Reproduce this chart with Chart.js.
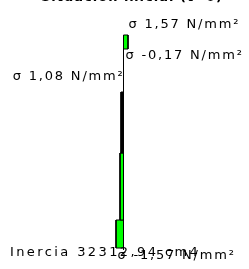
<!DOCTYPE html>
<html>
<head>
<meta charset="utf-8">
<script src="https://cdn.jsdelivr.net/npm/chart.js@4"></script>
<style>
  html, body { margin: 0; padding: 0; background: #fff; }
  #wrap { width: 249px; height: 269px; }
</style>
</head>
<body>
<div id="wrap"><canvas id="mychart"></canvas></div>
<script>
//. diagrama de tensiones de la sección
var titulo = 'Situación inicial (t=0)';
var canto = 213;                          //. canto total de la sección
var prof_ini = [ 0, 57, 118, 185 ];       //. profundidad inicial de cada tramo
var prof_fin = [ 14, 118, 185, 213 ];     //. profundidad final de cada tramo
var anchos = [ 4.5, -2.5, -3.5, -7.5 ];   //. valor dibujado de cada tramo
var tipos = [ 'verde', 'negro', 'verde', 'verde' ];
var tensiones = [ 'σ 1,57 N/mm²', 'σ -0,17 N/mm²', 'σ 1,08 N/mm²', 'σ -1,57 N/mm²' ];
var inercia = 'Inercia 32312,94 cm4';

var colores = { verde: '#00ff00', negro: '#000000' };

var datasets = [];
//. eje vertical
datasets.push({
  data: [ { x: 0, y: 0 }, { x: 0, y: canto + 2 } ],
  borderColor: '#000',
  borderWidth: 1,
  pointRadius: 0,
  showLine: true,
  fill: false
});
for( var i = 0; i < anchos.length; i ++ ){
  datasets.push({
    data: [
      { x: 0, y: prof_ini[i] },
      { x: anchos[i], y: prof_ini[i] },
      { x: anchos[i], y: prof_fin[i] },
      { x: 0, y: prof_fin[i] },
      { x: 0, y: prof_ini[i] }
    ],
    borderColor: '#000',
    backgroundColor: colores[tipos[i]],
    borderWidth: 1,
    pointRadius: 0,
    showLine: true,
    fill: 'shape'
  });
}

var textos = {
  id: 'textos',
  afterDraw: function( chart ){
    var ctx = chart.ctx;
    var sx = chart.scales.x, sy = chart.scales.y;
    var x0 = sx.getPixelForValue( 0 );
    var yTop = sy.getPixelForValue( 0 );
    var yBot = sy.getPixelForValue( canto );
    ctx.save();
    ctx.fillStyle = '#000';
    ctx.textBaseline = 'alphabetic';

    ctx.font = 'bold 13px "DejaVu Sans"';
    ctx.letterSpacing = '1px';
    ctx.textAlign = 'center';
    ctx.fillText( titulo, 132, 1 );

    ctx.font = '13px "DejaVu Sans"';
    ctx.letterSpacing = '1.8px';
    ctx.textAlign = 'left';
    ctx.fillText( tensiones[0], x0 + 5, yTop - 7 );
    ctx.fillText( tensiones[1], x0 + 2, yTop + 24 );
    ctx.fillText( tensiones[3], x0 - 6, yBot + 11 );
    ctx.letterSpacing = '2.4px';
    ctx.fillText( inercia, 10, yBot + 8 );
    ctx.letterSpacing = '1.8px';
    ctx.textAlign = 'right';
    ctx.fillText( tensiones[2], x0 + 1, yTop + 45 );
    ctx.restore();
  }
};

var chart = new Chart( document.getElementById( 'mychart' ), {
  type: 'scatter',
  data: { datasets: datasets },
  options: {
    responsive: true,
    maintainAspectRatio: false,
    animation: false,
    layout: { padding: 0 },
    plugins: { legend: { display: false }, tooltip: { enabled: false } },
    scales: {
      x: { type: 'linear', min: -123.5, max: 125.5, display: false },
      y: { type: 'linear', min: -35, max: 234, reverse: true, display: false }
    }
  },
  plugins: [ textos ]
});
</script>
</body>
</html>
